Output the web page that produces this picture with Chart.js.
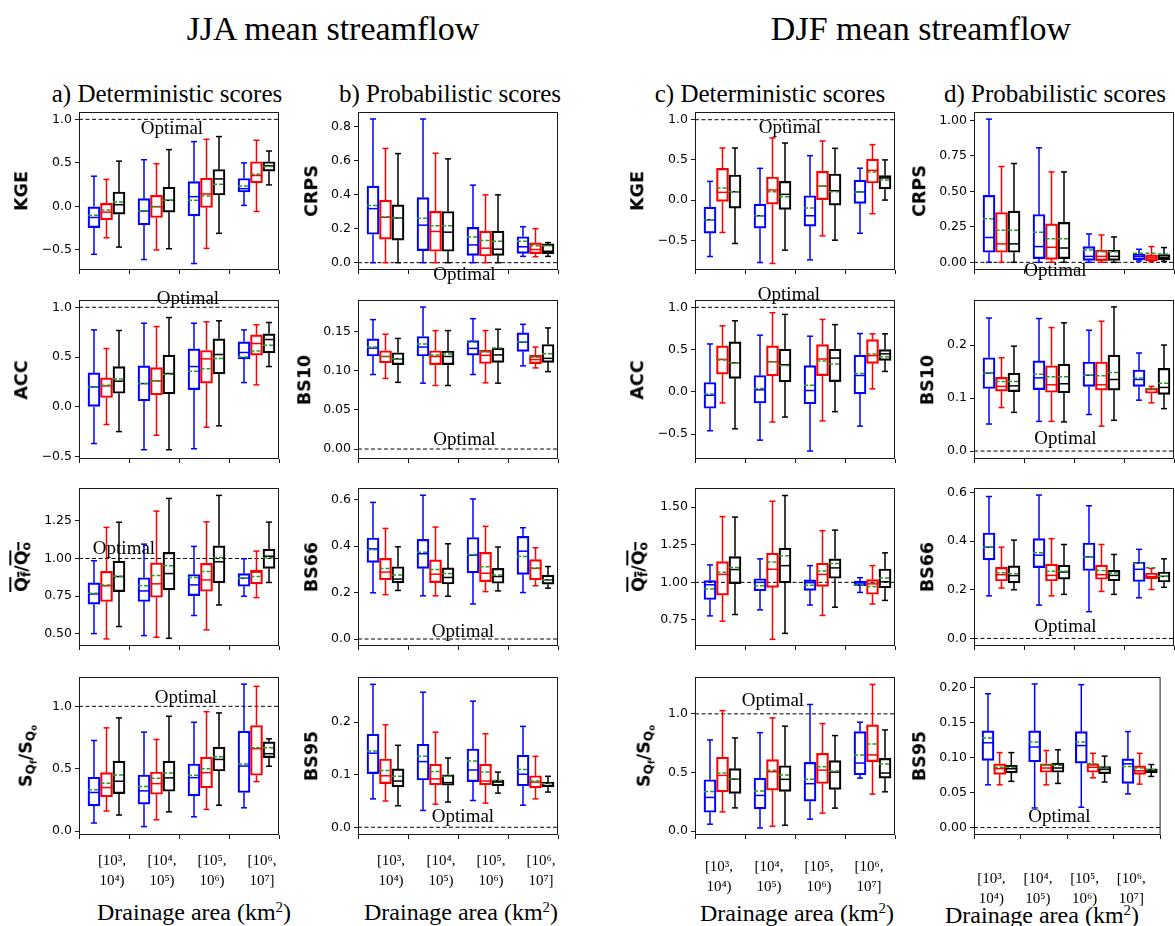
<!DOCTYPE html>
<html>
<head>
<meta charset="utf-8">
<script src="https://cdn.jsdelivr.net/npm/chart.js@4.4.1/dist/chart.umd.min.js"></script>
<style>
  body { margin: 0; background: #fff; }
  #fig { position: relative; width: 1175px; height: 926px; overflow: hidden; }
  #fig canvas { position: absolute; }
  .t { position: absolute; transform: translate(-50%, -50%); white-space: nowrap;
       font-family: "Liberation Serif", serif; line-height: 1; color: #000; }
  .t sup { font-size: 62%; vertical-align: 0.55em; }
  .yl { position: absolute; transform: translate(-50%, -50%) rotate(-90deg); white-space: nowrap;
        font: bold 17.5px "DejaVu Sans", sans-serif; line-height: 1; color: #000; }
  .yl sub { font-size: 70%; vertical-align: -0.25em; }
  .ov { text-decoration: overline; text-decoration-thickness: 1.5px; }
</style>
</head>
<body>
<div id="fig">
  <div class="t" style="left:333px;top:29px;font-size:34px">JJA mean streamflow</div>
  <div class="t" style="left:921px;top:29px;font-size:34px">DJF mean streamflow</div>
  <div class="t" style="left:167px;top:93px;font-size:25px">a) Deterministic scores</div>
  <div class="t" style="left:450px;top:93px;font-size:25px">b) Probabilistic scores</div>
  <div class="t" style="left:770px;top:93px;font-size:25px">c) Deterministic scores</div>
  <div class="t" style="left:1055px;top:93px;font-size:25px">d) Probabilistic scores</div>
  <div class="t" style="left:194px;top:912px;font-size:24px">Drainage area (km<sup>2</sup>)</div>
  <div class="t" style="left:461px;top:912px;font-size:24px">Drainage area (km<sup>2</sup>)</div>
  <div class="t" style="left:797px;top:913px;font-size:24px">Drainage area (km<sup>2</sup>)</div>
  <div class="t" style="left:1042px;top:915px;font-size:24px">Drainage area (km<sup>2</sup>)</div>
</div>
<script>
// drainage area classes (x categories)
const areaBins = [['[10³,', '10⁴)'], ['[10⁴,', '10⁵)'], ['[10⁵,', '10⁶)'], ['[10⁶,', '10⁷]']];

// each group: [whisker low, q1, median, q3, whisker high, mean]
// JJA deterministic
const jjaKgeBlue  = [[-0.55,-0.243,-0.127,0.0,0.347,-0.10],[-0.61,-0.212,-0.054,0.089,0.536,-0.054],[-0.656,-0.108,0.112,0.285,0.744,0.07],[0.012,0.166,0.204,0.32,0.50,0.235]];
const jjaKgeRed   = [[-0.36,-0.154,-0.066,0.035,0.31,-0.04],[-0.50,-0.127,-0.004,0.127,0.49,0.0],[-0.482,-0.012,0.143,0.324,0.771,0.12],[-0.058,0.27,0.355,0.513,0.76,0.37]];
const jjaKgeBlack = [[-0.467,-0.089,0.02,0.166,0.52,0.05],[-0.486,-0.066,0.07,0.22,0.652,0.07],[-0.309,0.131,0.316,0.424,0.802,0.255],[0.247,0.405,0.467,0.513,0.636,0.459]];

const jjaAccBlue  = [[-0.368,0.0,0.20,0.341,0.773,0.20],[-0.43,0.06,0.234,0.412,0.84,0.234],[-0.42,0.174,0.405,0.583,0.84,0.358],[0.244,0.482,0.546,0.653,0.773,0.502]];
const jjaAccRed   = [[-0.177,0.094,0.211,0.291,0.586,0.218],[-0.285,0.12,0.261,0.395,0.807,0.261],[-0.204,0.238,0.482,0.566,0.854,0.382],[0.221,0.519,0.636,0.723,0.824,0.562]];
const jjaAccBlack = [[-0.248,0.137,0.258,0.405,0.767,0.281],[-0.43,0.131,0.335,0.519,0.897,0.328],[-0.19,0.331,0.526,0.683,0.864,0.485],[0.405,0.542,0.676,0.733,0.847,0.619]];

const jjaQBlue  = [[0.502,0.697,0.765,0.838,0.985,0.77],[0.489,0.715,0.785,0.872,1.095,0.819],[0.622,0.754,0.825,0.894,1.08,0.874],[0.75,0.816,0.869,0.90,0.998,0.869]];
const jjaQRed   = [[0.467,0.715,0.819,0.914,1.206,0.825],[0.478,0.743,0.832,0.971,1.314,0.887],[0.527,0.783,0.858,0.967,1.243,0.914],[0.741,0.832,0.909,0.923,1.049,0.881]];
const jjaQBlack = [[0.549,0.78,0.88,0.982,1.24,0.883],[0.471,0.792,0.90,1.04,1.398,0.951],[0.692,0.838,0.978,1.084,1.418,1.007],[0.841,0.934,1.015,1.062,1.241,1.004]];

const jjaSBlue  = [[0.064,0.202,0.309,0.431,0.726,0.33],[0.035,0.215,0.322,0.449,0.793,0.356],[0.114,0.282,0.428,0.537,0.872,0.447],[0.186,0.309,0.521,0.80,1.178,0.537]];
const jjaSRed   = [[0.16,0.274,0.348,0.468,0.827,0.383],[0.09,0.295,0.38,0.473,0.734,0.423],[0.173,0.346,0.468,0.593,0.957,0.50],[0.396,0.447,0.66,0.846,1.16,0.668]];
const jjaSBlack = [[0.128,0.30,0.399,0.561,0.907,0.449],[0.154,0.319,0.426,0.561,0.92,0.465],[0.207,0.481,0.574,0.673,0.947,0.596],[0.519,0.588,0.62,0.715,0.739,0.668]];

// JJA probabilistic
const jjaCrpsBlue  = [[0,0.167,0.317,0.449,0.843,0.335],[0,0.071,0.22,0.382,0.843,0.26],[0,0.043,0.104,0.207,0.455,0.15],[0.037,0.055,0.093,0.152,0.211,0.126]];
const jjaCrpsRed   = [[0,0.138,0.266,0.367,0.67,0.27],[0,0.067,0.183,0.301,0.642,0.217],[0,0.039,0.085,0.185,0.398,0.13],[0.035,0.053,0.077,0.116,0.20,0.10]];
const jjaCrpsBlack = [[0,0.132,0.262,0.339,0.64,0.262],[0,0.067,0.179,0.30,0.609,0.217],[0,0.043,0.079,0.185,0.398,0.126],[0.037,0.053,0.067,0.11,0.118,0.10]];

const jjaBs10Blue  = [[0.095,0.1186,0.1287,0.1405,0.165,0.130],[0.084,0.1186,0.130,0.1435,0.181,0.1338],[0.095,0.1198,0.1283,0.1384,0.1662,0.136],[0.106,0.1245,0.1363,0.148,0.159,0.1363]];
const jjaBs10Red   = [[0.090,0.110,0.118,0.1253,0.1464,0.118],[0.081,0.1076,0.118,0.1253,0.151,0.120],[0.0844,0.109,0.1194,0.1257,0.151,0.124],[0.1034,0.1089,0.114,0.1194,0.130,0.1169]];
const jjaBs10Black = [[0.085,0.1076,0.115,0.1228,0.141,0.115],[0.081,0.1076,0.118,0.125,0.151,0.121],[0.084,0.1105,0.120,0.1287,0.1527,0.1287],[0.0987,0.1105,0.1156,0.1333,0.1544,0.1215]];

const jjaBs66Blue  = [[0.199,0.33,0.388,0.435,0.588,0.384],[0.186,0.304,0.367,0.429,0.619,0.373],[0.151,0.285,0.361,0.437,0.603,0.364],[0.20,0.278,0.378,0.442,0.479,0.355]];
const jjaBs66Red   = [[0.191,0.255,0.288,0.347,0.476,0.304],[0.186,0.243,0.279,0.341,0.482,0.299],[0.204,0.247,0.283,0.373,0.485,0.311],[0.229,0.255,0.304,0.342,0.393,0.306]];
const jjaBs66Black = [[0.209,0.242,0.258,0.311,0.397,0.276],[0.184,0.237,0.265,0.306,0.41,0.282],[0.207,0.24,0.269,0.304,0.396,0.276],[0.219,0.236,0.255,0.275,0.312,0.255]];

const jjaBs95Blue  = [[0.054,0.102,0.141,0.177,0.272,0.145],[0.032,0.09,0.125,0.158,0.257,0.135],[0.051,0.087,0.109,0.149,0.24,0.126],[0.042,0.079,0.101,0.137,0.192,0.11]];
const jjaBs95Red   = [[0.05,0.083,0.098,0.13,0.195,0.108],[0.044,0.081,0.092,0.12,0.181,0.106],[0.046,0.081,0.088,0.12,0.178,0.105],[0.054,0.075,0.086,0.098,0.135,0.088]];
const jjaBs95Black = [[0.041,0.077,0.088,0.111,0.156,0.097],[0.048,0.08,0.085,0.10,0.132,0.097],[0.065,0.079,0.086,0.09,0.105,0.089],[0.067,0.077,0.084,0.086,0.097,0.083]];

// DJF deterministic
const djfKgeBlue  = [[-0.702,-0.411,-0.245,-0.087,0.233,-0.245],[-0.777,-0.349,-0.195,-0.05,0.395,-0.195],[-0.744,-0.324,-0.195,0.054,0.553,-0.1],[-0.413,-0.04,0.102,0.247,0.397,0.102]];
const djfKgeRed   = [[-0.403,-0.017,0.096,0.395,0.648,0.15],[-0.789,-0.05,0.125,0.287,0.773,0.104],[-0.445,0.0,0.174,0.357,0.735,0.174],[-0.17,0.212,0.37,0.509,0.69,0.349]];
const djfKgeBlack = [[-0.54,-0.10,0.104,0.312,0.648,0.104],[-0.623,-0.116,0.071,0.233,0.71,0.042],[-0.499,-0.062,0.116,0.324,0.644,0.104],[0.0,0.14,0.275,0.305,0.5,0.25]];

const djfAccBlue  = [[-0.46,-0.194,-0.04,0.111,0.567,-0.024],[-0.571,-0.131,0.024,0.194,0.671,0.04],[-0.70,-0.14,0.016,0.31,0.659,0.079],[-0.405,-0.024,0.194,0.433,0.69,0.218]];
const djfAccRed   = [[-0.131,0.21,0.385,0.544,0.782,0.377],[-0.357,0.19,0.357,0.544,0.937,0.357],[-0.343,0.192,0.389,0.56,0.857,0.365],[0.036,0.337,0.429,0.619,0.687,0.448]];
const djfAccBlack = [[-0.437,0.159,0.345,0.591,0.841,0.345],[-0.298,0.119,0.321,0.504,0.917,0.313],[-0.234,0.121,0.40,0.504,0.796,0.33],[0.242,0.373,0.45,0.50,0.687,0.415]];

const djfQBlue  = [[0.777,0.886,0.984,1.011,1.116,0.955],[0.817,0.944,1.0,1.024,1.156,0.978],[0.849,0.947,0.998,1.016,1.111,0.98],[0.933,0.978,0.996,1.009,1.031,0.982]];
const djfQRed   = [[0.742,0.915,1.053,1.138,1.437,1.067],[0.621,0.967,1.087,1.194,1.539,1.136],[0.78,0.973,1.053,1.127,1.343,1.076],[0.856,0.921,0.99,1.018,1.111,0.973]];
const djfQBlack = [[0.786,0.991,1.085,1.171,1.434,1.098],[0.661,0.996,1.111,1.227,1.577,1.176],[0.835,1.027,1.096,1.156,1.347,1.125],[0.88,0.964,1.004,1.089,1.196,1.029]];

const djfSBlue  = [[0.06,0.162,0.288,0.439,0.778,0.339],[0.028,0.191,0.305,0.453,0.84,0.342],[0.103,0.256,0.405,0.587,1.08,0.442],[0.453,0.481,0.581,0.849,0.929,0.65]];
const djfSRed   = [[0.165,0.336,0.476,0.63,1.028,0.496],[0.043,0.35,0.507,0.61,0.966,0.519],[0.154,0.407,0.521,0.664,0.917,0.55],[0.316,0.593,0.65,0.906,1.251,0.744]];
const djfSBlack = [[0.199,0.322,0.444,0.533,0.795,0.444],[0.051,0.339,0.442,0.558,0.895,0.479],[0.197,0.356,0.504,0.601,0.815,0.513],[0.336,0.453,0.496,0.621,0.863,0.573]];

// DJF probabilistic
const djfCrpsBlue  = [[0,0.071,0.175,0.472,1.009,0.307],[0,0.026,0.111,0.337,0.807,0.212],[0,0.014,0.042,0.111,0.20,0.087],[0.009,0.017,0.04,0.059,0.092,0.064]];
const djfCrpsRed   = [[0,0.071,0.13,0.351,0.675,0.226],[0,0.021,0.106,0.271,0.637,0.167],[0,0.012,0.042,0.087,0.193,0.075],[0.005,0.012,0.033,0.052,0.111,0.064]];
const djfCrpsBlack = [[0,0.071,0.13,0.361,0.696,0.226],[0,0.026,0.101,0.281,0.637,0.167],[0,0.014,0.042,0.085,0.179,0.075],[0.007,0.017,0.033,0.054,0.104,0.059]];

const djfBs10Blue  = [[0.051,0.118,0.147,0.176,0.251,0.147],[0.056,0.116,0.138,0.17,0.25,0.145],[0.069,0.122,0.143,0.168,0.228,0.143],[0.096,0.122,0.135,0.153,0.185,0.138]];
const djfBs10Red   = [[0.082,0.113,0.122,0.139,0.176,0.131],[0.056,0.111,0.125,0.161,0.233,0.14],[0.047,0.115,0.125,0.168,0.245,0.142],[0.091,0.109,0.116,0.119,0.122,0.117]];
const djfBs10Black = [[0.073,0.112,0.123,0.147,0.198,0.131],[0.055,0.11,0.127,0.164,0.242,0.14],[0.058,0.115,0.135,0.181,0.272,0.148],[0.08,0.107,0.12,0.156,0.20,0.128]];

const djfBs66Blue  = [[0.175,0.323,0.375,0.433,0.583,0.375],[0.137,0.291,0.342,0.41,0.589,0.352],[0.11,0.279,0.335,0.392,0.545,0.335],[0.167,0.234,0.284,0.313,0.366,0.309]];
const djfBs66Red   = [[0.207,0.236,0.262,0.292,0.375,0.27],[0.175,0.236,0.259,0.305,0.41,0.276],[0.193,0.243,0.262,0.301,0.386,0.279],[0.201,0.246,0.254,0.269,0.287,0.29]];
const djfBs66Black = [[0.20,0.228,0.258,0.298,0.404,0.266],[0.181,0.244,0.273,0.301,0.386,0.276],[0.181,0.237,0.259,0.28,0.345,0.269],[0.21,0.232,0.255,0.273,0.327,0.255]];

const djfBs95Blue  = [[0.061,0.096,0.121,0.138,0.191,0.128],[0.028,0.094,0.115,0.138,0.205,0.122],[0.029,0.092,0.117,0.137,0.204,0.122],[0.048,0.063,0.091,0.098,0.137,0.087]];
const djfBs95Red   = [[0.061,0.076,0.084,0.091,0.107,0.086],[0.061,0.079,0.085,0.091,0.11,0.089],[0.071,0.079,0.086,0.091,0.106,0.091],[0.062,0.076,0.081,0.088,0.106,0.085]];
const djfBs95Black = [[0.066,0.078,0.084,0.089,0.107,0.086],[0.063,0.079,0.085,0.092,0.111,0.089],[0.065,0.077,0.083,0.087,0.102,0.085],[0.073,0.078,0.082,0.084,0.09,0.083]];

// y-axis labels
const QBAR = '<span class="ov">Q<sub>f</sub></span>/<span class="ov">Q<sub>o</sub></span>';
const SRATIO = 'S<sub>Q<sub>f</sub></sub>/S<sub>Q<sub>o</sub></sub>';

// layout of the grid (pixels)
const colLeft = [79, 358, 695, 974];
const rowTop = [112, 300, 488, 677];
const rowH = [158, 159, 158, 158];
const binOffset = [8, 8, -1, -6];
const binPad = [13, 13, 19, 31];
const seriesColors = ['#0000ff', '#ff0000', '#000000'];
const seriesShift = [-0.2, 0.05, 0.3];

const panels = [
  {col:0,row:0,label:'KGE',lx:21.5,y:[-0.73,1.084],ticks:[-0.5,0,0.5,1],dec:1,opt:1,txt:[1.36,0.888],data:[jjaKgeBlue,jjaKgeRed,jjaKgeBlack]},
  {col:0,row:1,label:'ACC',lx:22,y:[-0.523,1.073],ticks:[-0.5,0,0.5,1],dec:1,opt:1,txt:[1.68,1.083],data:[jjaAccBlue,jjaAccRed,jjaAccBlack]},
  {col:0,row:2,label:QBAR,lx:23,y:[0.42,1.467],ticks:[0.5,0.75,1,1.25],dec:2,opt:1,txt:[0.4,1.064],data:[jjaQBlue,jjaQRed,jjaQBlack]},
  {col:0,row:3,label:SRATIO,lx:28,y:[-0.032,1.235],ticks:[0,0.5,1],dec:1,opt:1,txt:[1.64,1.069],data:[jjaSBlue,jjaSRed,jjaSBlack]},
  {col:1,row:0,label:'CRPS',lx:311.5,y:[-0.043,0.884],ticks:[0,0.2,0.4,0.6,0.8],dec:1,opt:0,txt:[1.63,-0.073],data:[jjaCrpsBlue,jjaCrpsRed,jjaCrpsBlack]},
  {col:1,row:1,label:'BS10',lx:305,y:[-0.0127,0.19],ticks:[0,0.05,0.1,0.15],dec:2,opt:0,txt:[1.63,0.0114],data:[jjaBs10Blue,jjaBs10Red,jjaBs10Black]},
  {col:1,row:2,label:'BS66',lx:312,y:[-0.03,0.65],ticks:[0,0.2,0.4,0.6],dec:1,opt:0,txt:[1.6,0.0315],data:[jjaBs66Blue,jjaBs66Red,jjaBs66Black]},
  {col:1,row:3,label:'BS95',lx:312,y:[-0.0147,0.286],ticks:[0,0.1,0.2],dec:1,opt:0,txt:[1.6,0.02],data:[jjaBs95Blue,jjaBs95Red,jjaBs95Black]},
  {col:2,row:0,label:'KGE',lx:638,y:[-0.87,1.096],ticks:[-0.5,0,0.5,1],dec:1,opt:1,txt:[1.4,0.9],data:[djfKgeBlue,djfKgeRed,djfKgeBlack]},
  {col:2,row:1,label:'ACC',lx:638,y:[-0.794,1.087],ticks:[-0.5,0,0.5,1],dec:1,opt:1,txt:[1.38,1.15],data:[djfAccBlue,djfAccRed,djfAccBlack]},
  {col:2,row:2,label:QBAR,lx:640,y:[0.577,1.627],ticks:[0.75,1,1.25,1.5],dec:2,opt:1,txt:null,data:[djfQBlue,djfQRed,djfQBlack]},
  {col:2,row:3,label:SRATIO,lx:646,y:[-0.032,1.314],ticks:[0,0.5,1],dec:1,opt:1,txt:[1.06,1.111],data:[djfSBlue,djfSRed,djfSBlack]},
  {col:3,row:0,label:'CRPS',lx:920,y:[-0.054,1.059],ticks:[0,0.25,0.5,0.75,1],dec:2,opt:0,txt:[1.13,-0.062],data:[djfCrpsBlue,djfCrpsRed,djfCrpsBlack]},
  {col:3,row:1,label:'BS10',lx:928,y:[-0.015,0.285],ticks:[0,0.1,0.2],dec:1,opt:0,txt:[1.33,0.0235],data:[djfBs10Blue,djfBs10Red,djfBs10Black]},
  {col:3,row:2,label:'BS66',lx:928,y:[-0.031,0.618],ticks:[0,0.2,0.4,0.6],dec:1,opt:0,txt:[1.33,0.047],data:[djfBs66Blue,djfBs66Red,djfBs66Black]},
  {col:3,row:3,label:'BS95',lx:920,y:[-0.0106,0.2149],ticks:[0,0.05,0.1,0.15,0.2],dec:2,opt:0,txt:[1.33,0.0147],data:[djfBs95Blue,djfBs95Red,djfBs95Black]}
];

function fmt(v, dec) {
  return (v < 0 ? '\u2212' : '') + Math.abs(v).toFixed(dec);
}

function seg(ctx, x1, y1, x2, y2) {
  ctx.beginPath(); ctx.moveTo(x1, y1); ctx.lineTo(x2, y2); ctx.stroke();
}

// whiskers, caps, medians, means, optimal line, frame
const boxPlot = {
  id: 'boxPlot',
  beforeDatasetsDraw(chart, args, o) {
    const {ctx, chartArea: a, scales: {y}} = chart;
    const oy = y.getPixelForValue(o.opt);
    ctx.save();
    ctx.strokeStyle = '#000'; ctx.lineWidth = 1; ctx.setLineDash([4, 2.5]);
    seg(ctx, a.left, oy, a.right, oy);
    ctx.restore();
  },
  afterDatasetsDraw(chart, args, o) {
    const {ctx, chartArea: a, scales: {x, y}} = chart;
    ctx.save();
    chart.data.datasets.forEach(ds => {
      ds.stats.forEach((s, i) => {
        const cx = x.getPixelForValue(ds.data[i].x);
        const [lo, q1, md, q3, hi, mn] = s.map(v => y.getPixelForValue(v));
        ctx.strokeStyle = ds.borderColor; ctx.lineWidth = 1.5; ctx.setLineDash([]);
        seg(ctx, cx, q3, cx, hi);
        seg(ctx, cx, q1, cx, lo);
        seg(ctx, cx - 3, hi, cx + 3, hi);
        seg(ctx, cx - 3, lo, cx + 3, lo);
        seg(ctx, cx - 6, md, cx + 6, md);
        ctx.strokeStyle = '#2a9a2a'; ctx.setLineDash([4, 2]);
        seg(ctx, cx - 6, mn, cx + 6, mn);
      });
    });
    ctx.setLineDash([]); ctx.strokeStyle = '#1a1a1a'; ctx.lineWidth = 1;
    ctx.strokeRect(a.left + 0.5, a.top + 0.5, a.width - 1, a.height - 1);
    if (o.txt) {
      ctx.font = '19px "Liberation Serif"'; ctx.fillStyle = '#000';
      ctx.textAlign = 'center'; ctx.textBaseline = 'middle';
      ctx.fillText('Optimal', x.getPixelForValue(o.txt[0]), y.getPixelForValue(o.txt[1]));
    }
    ctx.restore();
  }
};

const fig = document.getElementById('fig');
const PADT = 22, YW = 79, PADR = 10, PW = 200;

panels.forEach(p => {
  const last = p.row === 3;
  const xh = last ? 80 : 6;
  const padB = last ? 0 : 16;
  const cv = document.createElement('canvas');
  cv.width = YW + PW + PADR;
  cv.height = PADT + rowH[p.row] + xh + padB;
  cv.style.left = (colLeft[p.col] - YW) + 'px';
  cv.style.top = (rowTop[p.row] - PADT) + 'px';
  fig.appendChild(cv);

  const lab = document.createElement('div');
  lab.className = 'yl';
  lab.innerHTML = p.label;
  lab.style.left = p.lx + 'px';
  lab.style.top = (rowTop[p.row] + rowH[p.row] / 2) + 'px';
  fig.appendChild(lab);

  const tickGrid = { drawOnChartArea: false, drawTicks: true, tickLength: 4, tickColor: '#1a1a1a', tickWidth: 1 };

  new Chart(cv, {
    type: 'bar',
    data: {
      datasets: p.data.map((arr, si) => ({
        data: arr.map((g, i) => ({ x: i + seriesShift[si], y: [g[1], g[3]] })),
        stats: arr,
        borderColor: seriesColors[si],
        backgroundColor: 'rgba(0,0,0,0)',
        borderWidth: 1.5,
        borderSkipped: false,
        barThickness: 12,
        grouped: false
      }))
    },
    options: {
      responsive: false,
      animation: false,
      events: [],
      layout: { padding: { top: PADT, right: PADR, bottom: padB, left: 0 } },
      plugins: { legend: { display: false }, tooltip: { enabled: false }, boxPlot: p },
      scales: {
        x: {
          type: 'linear', min: -0.5, max: 3.5, offset: false,
          afterFit: s => { s.height = xh; },
          afterBuildTicks: s => { s.ticks = areaBins.map((b, i) => ({ value: i })); },
          ticks: {
            display: last, autoSkip: false, maxRotation: 0,
            callback: (v, i) => areaBins[i],
            font: { family: 'Liberation Serif', size: 15, lineHeight: 1.27 },
            color: '#000', padding: binPad[p.col], labelOffset: binOffset[p.col]
          },
          grid: tickGrid, border: { display: false }
        },
        y: {
          min: p.y[0], max: p.y[1],
          afterFit: s => { s.width = YW; },
          afterBuildTicks: s => { s.ticks = p.ticks.map(v => ({ value: v })); },
          ticks: { callback: v => fmt(v, p.dec), font: { family: 'DejaVu Sans', size: 12.5 }, color: '#000', padding: 3 },
          grid: tickGrid, border: { display: false }
        }
      }
    },
    plugins: [boxPlot]
  });
});
</script>
</body>
</html>
